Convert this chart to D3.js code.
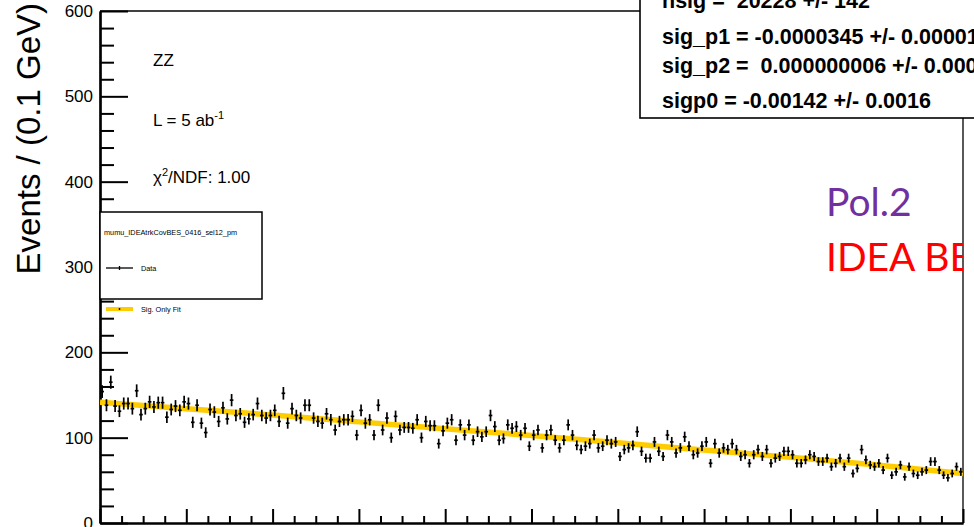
<!DOCTYPE html>
<html><head><meta charset="utf-8">
<script src="https://cdn.jsdelivr.net/npm/d3@7"></script>
<style>
body{margin:0;background:#fff}
svg{display:block}
text{font-family:"Liberation Sans",Arial,Helvetica,sans-serif}
</style>
</head><body>
<svg id="c" width="974" height="527"></svg>
<script>
// ---- data ----
const xMin = 120, xMax = 140, binWidth = 0.1;
const counts = [
 154,138,165,137,131,140,140,134,155,127, 134,142,136,141,141,124,133,137,132,142,
 140,118,138,117,106,133,130,119,135,122, 144,126,128,118,122,127,140,126,123,126,
 132,119,152,117,134,126,123,138,138,123, 119,117,128,121,109,119,121,121,125,103,
 132,117,121,103,138,109,123,100,125,109, 112,112,111,121,100,119,114,114,93,108,
 117,121,97,115,103,115,97,107,101,107, 126,113,97,99,115,111,113,103,111,90,
 103,109,88,103,109,97,88,97,115,103, 91,86,90,93,103,88,90,97,93,95,
 78,86,88,91,107,84,76,76,95,84, 78,103,95,82,88,101,90,80,82,90,
 95,70,93,82,88,86,93,86,78,80, 70,80,86,78,86,70,76,78,84,84,
 80,70,70,74,80,78,72,72,76,66, 70,76,66,76,58,64,86,74,68,66,
 70,62,76,56,60,68,54,66,58,56, 60,62,72,72,62,56,53,58,66,60
];
const errScale = 0.6; // error bars drawn as errScale*sqrt(N)
const fitX = [120,122,124,126,128,130,132,134,136,138,140];
const fitY = [141.5,134,126.5,118.5,110.5,102.5,94,85.5,77,68,58];
const yMajor = [0,100,200,300,400,500,600];
const yMinor = d3.range(0, 601, 20).filter(v => v % 100 !== 0);
const xMajor = d3.range(xMin, xMax + 0.001, 2);
const xMinor = d3.range(xMin, xMax + 0.001, 0.5).filter(v => Math.abs(v/2 - Math.round(v/2)) > 1e-6);
const yTitle = "Events / (0.1 GeV)";
const legendTitle = "mumu_IDEAtrkCovBES_0416_sel12_pm";
const legendItems = ["Data", "Sig. Only Fit"];
const statsLines = [
 "nsig =  20228 +/- 142",
 "sig_p1 = -0.0000345 +/- 0.00001",
 "sig_p2 =  0.000000006 +/- 0.000",
 "sigp0 = -0.00142 +/- 0.0016"
];

// ---- layout ----
const L = 100, R = 963, T = 11, B = 523;
const svg = d3.select("#c");
const x = d3.scaleLinear().domain([xMin, xMax]).range([L, R]);
const y = d3.scaleLinear().domain([0, 600]).range([B, T]);

svg.append("defs").append("clipPath").attr("id","frameClip")
  .append("rect").attr("x", L).attr("y", T).attr("width", R - L).attr("height", B - T);
svg.append("defs").append("clipPath").attr("id","rightClip")
  .append("rect").attr("x", 0).attr("y", 0).attr("width", R).attr("height", 527);

// frame
svg.append("line").attr("x1", L).attr("x2", R).attr("y1", T).attr("y2", T).attr("stroke","#000").attr("stroke-width",1.3);
svg.append("line").attr("x1", R).attr("x2", R).attr("y1", T).attr("y2", B).attr("stroke","#000").attr("stroke-width",1.3);

// y axis
const gy = svg.append("g").attr("transform", `translate(${L},0)`);
gy.call(d3.axisLeft(y).tickValues(yMajor).tickSize(-28).tickSizeOuter(0).tickPadding(7).tickFormat(d3.format("d")));
gy.append("g").call(d3.axisLeft(y).tickValues(yMinor).tickSize(-14).tickSizeOuter(0).tickFormat(""));
gy.selectAll("path.domain").attr("stroke-width", 2.2);
gy.selectAll(".tick line").attr("stroke-width", 2);
gy.selectAll(".tick text").attr("font-size", 17).attr("font-family", "Liberation Sans, Arial, sans-serif").attr("fill","#000");

// x axis
const gx = svg.append("g").attr("transform", `translate(0,${B})`);
gx.call(d3.axisBottom(x).tickValues(xMajor).tickSize(-14).tickSizeOuter(0).tickFormat(""));
gx.append("g").call(d3.axisBottom(x).tickValues(xMinor).tickSize(-7).tickSizeOuter(0).tickFormat(""));
gx.selectAll("path.domain").attr("stroke-width", 2.2);
gx.selectAll(".tick line").attr("stroke-width", 2);

// y title
svg.append("text").attr("transform", "translate(40,3) rotate(-90)")
  .attr("text-anchor", "end").attr("font-size", 33).text(yTitle);

// fit curve
const plot = svg.append("g").attr("clip-path", "url(#frameClip)");
plot.append("path").datum(fitX.map((d, i) => [d, fitY[i]]))
  .attr("d", d3.line().x(d => x(d[0])).y(d => y(d[1])).curve(d3.curveNatural))
  .attr("fill", "none").attr("stroke", "#ffcc00").attr("stroke-width", 5.5);

// data points
const pts = counts.map((v, i) => ({ c: xMin + (i + 0.5) * binWidth, v, e: errScale * Math.sqrt(v) }));
const gp = plot.append("g").attr("stroke", "#000").attr("stroke-width", 1.7);
gp.selectAll("line.v").data(pts).join("line").attr("class","v")
  .attr("x1", d => x(d.c)).attr("x2", d => x(d.c))
  .attr("y1", d => y(d.v + d.e)).attr("y2", d => y(d.v - d.e));
gp.selectAll("line.h").data(pts).join("line").attr("class","h")
  .attr("x1", d => x(d.c) - 1.8).attr("x2", d => x(d.c) + 1.8)
  .attr("y1", d => y(d.v)).attr("y2", d => y(d.v));

// info texts
const info = svg.append("g").attr("font-size", 17);
info.append("text").attr("x", 153).attr("y", 66).text("ZZ");
const tL = info.append("text").attr("x", 153).attr("y", 126);
tL.append("tspan").text("L = 5 ab");
tL.append("tspan").attr("font-size", 11).attr("dy", -7).text("-1");
const tC = info.append("text").attr("x", 153).attr("y", 183);
tC.append("tspan").text("\u03c7");
tC.append("tspan").attr("font-size", 11).attr("dy", -7).text("2");
tC.append("tspan").attr("dy", 7).text("/NDF: 1.00");

// legend
const lg = svg.append("g");
lg.append("rect").attr("x", L).attr("y", 212).attr("width", 162).attr("height", 87)
  .attr("fill", "#fff").attr("stroke", "#000").attr("stroke-width", 1.5);
lg.append("text").attr("x", 104).attr("y", 235).attr("font-size", 7.3).text(legendTitle);
lg.append("line").attr("x1", 106).attr("x2", 133).attr("y1", 268).attr("y2", 268).attr("stroke", "#000").attr("stroke-width", 1.3);
lg.append("line").attr("x1", 119.5).attr("x2", 119.5).attr("y1", 266).attr("y2", 270).attr("stroke", "#000").attr("stroke-width", 1.3);
lg.append("text").attr("x", 141).attr("y", 270.5).attr("font-size", 7.3).text(legendItems[0]);
lg.append("line").attr("x1", 106).attr("x2", 133).attr("y1", 309).attr("y2", 309).attr("stroke", "#ffcc00").attr("stroke-width", 4);
lg.append("circle").attr("cx", 119.5).attr("cy", 309).attr("r", 0.9).attr("fill", "#000");
lg.append("text").attr("x", 141).attr("y", 311.5).attr("font-size", 7.3).text(legendItems[1]);

// stats box
const sb = svg.append("g");
sb.append("rect").attr("x", 640).attr("y", -20).attr("width", 400).attr("height", 138)
  .attr("fill", "#fff").attr("stroke", "#000").attr("stroke-width", 1.6);
const sy = [8, 44, 73, 108];
statsLines.forEach((s, i) => {
  sb.append("text").attr("x", 662).attr("y", sy[i]).attr("font-size", 21.5).attr("font-weight", "bold")
    .style("white-space", "pre").text(s);
});

// annotation
const an = svg.append("g").attr("clip-path", "url(#rightClip)");
an.append("text").attr("x", 826).attr("y", 216).attr("font-size", 39).attr("fill", "#7030a0")
  .style("font-family", "Lato, 'Open Sans', sans-serif").text("Pol.2");
an.append("text").attr("x", 826).attr("y", 271).attr("font-size", 39).attr("fill", "#ff0000")
  .style("font-family", "Lato, 'Open Sans', sans-serif").text("IDEA BES");
</script>
</body></html>
